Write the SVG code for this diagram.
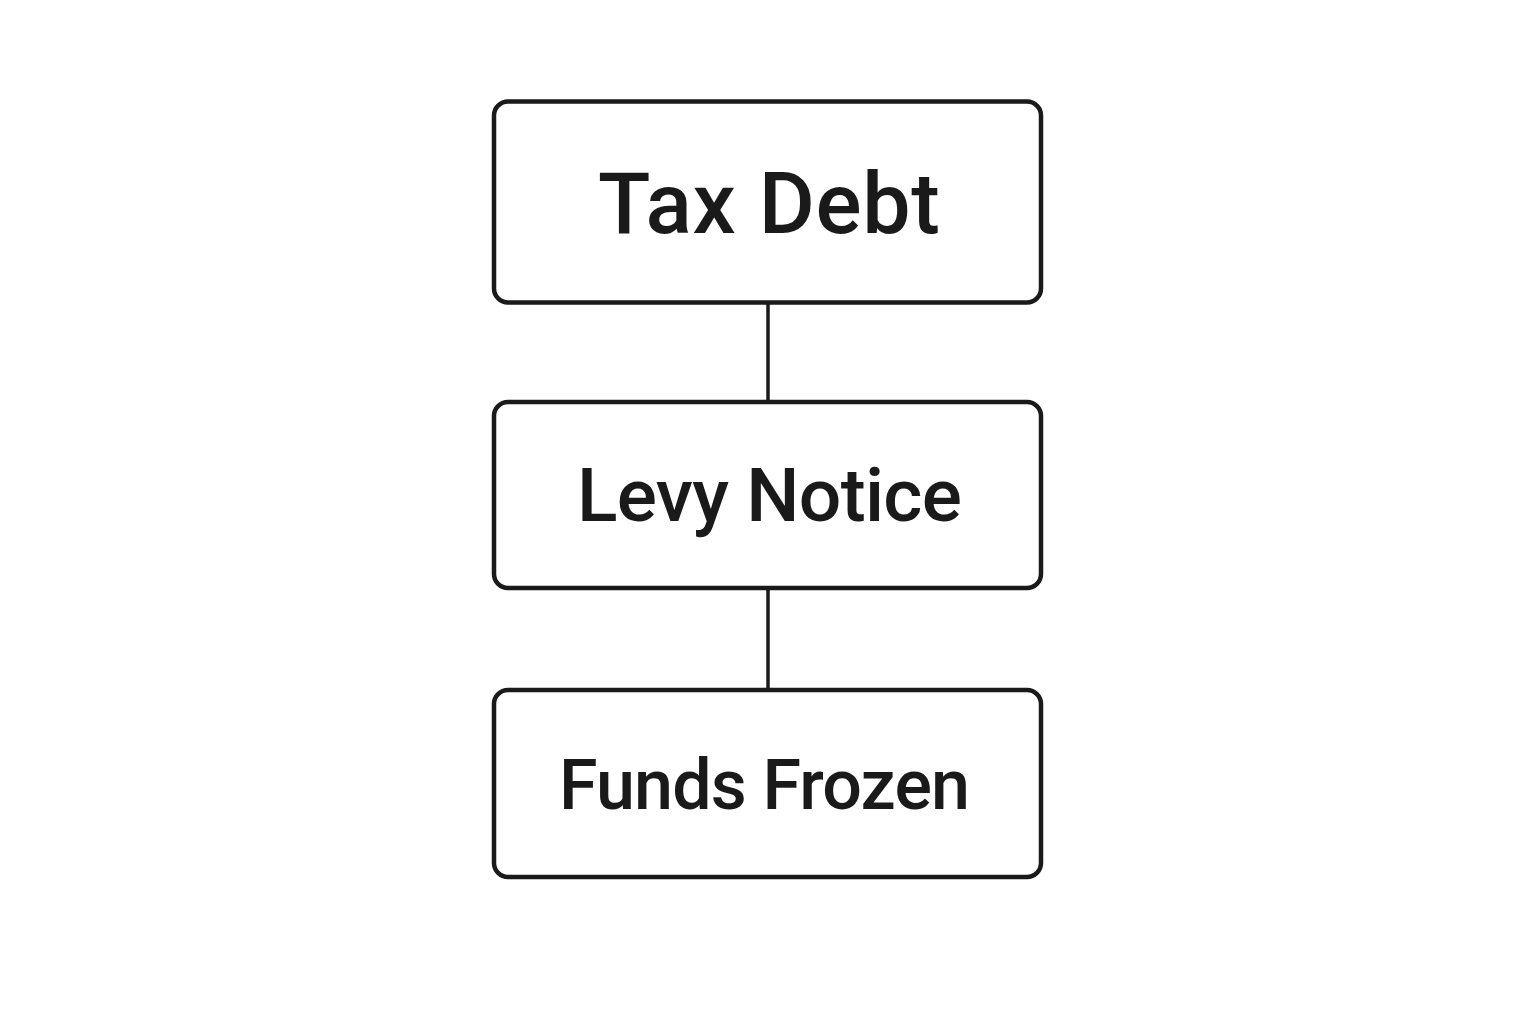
<svg xmlns="http://www.w3.org/2000/svg" width="1536" height="1024" viewBox="0 0 1536 1024">
<style>
.box{fill:#ffffff;stroke:#1a1a1a;stroke-width:4.5}
.lbl{font-family:Roboto,Inter,"Liberation Sans",sans-serif;font-weight:500;fill:#1a1a1a;text-anchor:middle}
.conn{stroke:#1a1a1a;stroke-width:3.5;fill:none}
</style>
<rect width="1536" height="1024" fill="#ffffff"/>
<g id="connectors">
<line class="conn" x1="768" y1="303" x2="768" y2="401"/>
<line class="conn" x1="768" y1="589" x2="768" y2="689"/>
</g>
<g id="tax-debt">
<rect class="box" x="494" y="101.5" width="547" height="201" rx="14"/>
<text class="lbl" x="769" y="233" font-size="86" textLength="342" lengthAdjust="spacing">Tax Debt</text>
</g>
<g id="levy-notice">
<rect class="box" x="494" y="402" width="547" height="186" rx="14"/>
<text class="lbl" x="769.5" y="521" font-size="75" textLength="385" lengthAdjust="spacing">Levy Notice</text>
</g>
<g id="funds-frozen">
<rect class="box" x="494" y="690" width="547" height="187" rx="14"/>
<text class="lbl" x="764.5" y="809" font-size="70" textLength="411" lengthAdjust="spacing">Funds Frozen</text>
</g>
</svg>
